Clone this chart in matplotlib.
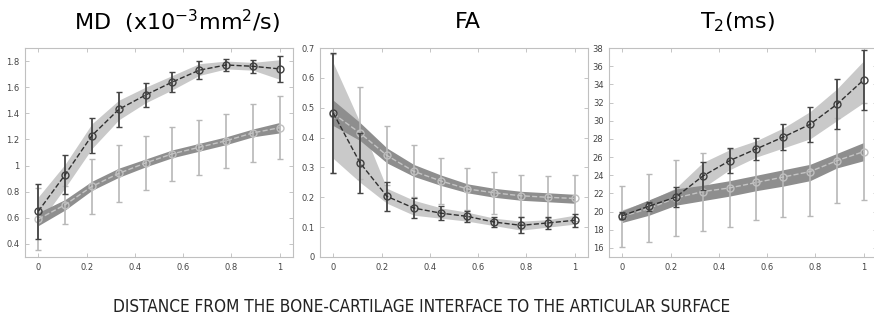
import numpy as np
import matplotlib
matplotlib.use('Agg')
import matplotlib.pyplot as plt

# posicao normalizada (0 = osso-cartilagem, 1 = superficie articular)
x = [0, 1/9, 2/9, 3/9, 4/9, 5/9, 6/9, 7/9, 8/9, 1]

# MD
md_a = [0.65, 0.93, 1.23, 1.43, 1.54, 1.64, 1.73, 1.77, 1.76, 1.74]
md_a_sd = [0.21, 0.15, 0.135, 0.135, 0.095, 0.08, 0.07, 0.045, 0.05, 0.10]
md_a_lo = [0.55, 0.83, 1.13, 1.35, 1.48, 1.58, 1.69, 1.74, 1.73, 1.66]
md_a_hi = [0.76, 1.01, 1.32, 1.50, 1.60, 1.69, 1.78, 1.80, 1.79, 1.81]
md_b = [0.59, 0.70, 0.84, 0.94, 1.02, 1.09, 1.14, 1.19, 1.25, 1.29]
md_b_sd = [0.235, 0.145, 0.21, 0.22, 0.21, 0.205, 0.21, 0.205, 0.22, 0.24]
md_b_lo = [0.54, 0.66, 0.81, 0.91, 0.99, 1.06, 1.11, 1.16, 1.22, 1.25]
md_b_hi = [0.64, 0.74, 0.88, 0.98, 1.05, 1.12, 1.17, 1.22, 1.28, 1.33]

# FA
fa_a = [0.482, 0.315, 0.203, 0.164, 0.147, 0.136, 0.117, 0.106, 0.114, 0.123]
fa_a_sd = [0.2, 0.10, 0.048, 0.032, 0.023, 0.019, 0.018, 0.027, 0.019, 0.022]
fa_a_lo = [0.33, 0.25, 0.18, 0.14, 0.13, 0.12, 0.105, 0.09, 0.10, 0.11]
fa_a_hi = [0.65, 0.45, 0.23, 0.19, 0.165, 0.15, 0.13, 0.12, 0.125, 0.14]
fa_b = [0.48, 0.415, 0.34, 0.287, 0.255, 0.228, 0.215, 0.205, 0.20, 0.196]
fa_b_sd = [0.2, 0.155, 0.10, 0.087, 0.077, 0.07, 0.07, 0.07, 0.071, 0.077]
fa_b_lo = [0.44, 0.39, 0.315, 0.27, 0.24, 0.215, 0.20, 0.19, 0.185, 0.18]
fa_b_hi = [0.525, 0.45, 0.365, 0.31, 0.275, 0.245, 0.23, 0.22, 0.215, 0.21]

# T2
t2_a = [19.55, 20.6, 21.6, 23.9, 25.6, 26.9, 28.2, 29.6, 31.8, 34.5]
t2_a_sd = [0.4, 0.5, 1.1, 1.5, 1.4, 1.25, 1.4, 1.9, 2.75, 3.3]
t2_a_lo = [19.0, 20.0, 21.0, 22.6, 24.6, 26.0, 27.0, 28.0, 30.0, 32.0]
t2_a_hi = [20.2, 21.2, 22.6, 25.4, 26.8, 27.8, 29.2, 31.0, 33.5, 36.6]
t2_b = [19.45, 20.35, 21.5, 22.2, 22.6, 23.2, 23.8, 24.4, 25.6, 26.6]
t2_b_sd = [3.4, 3.75, 4.15, 4.3, 4.25, 4.1, 4.4, 4.9, 4.7, 5.35]
t2_b_lo = [18.8, 19.6, 20.7, 21.2, 21.7, 22.3, 22.8, 23.4, 24.8, 25.6]
t2_b_hi = [20.1, 21.3, 22.5, 22.9, 23.4, 24.0, 24.6, 25.2, 26.4, 27.6]

paineis = [
    (md_a, md_a_sd, md_a_lo, md_a_hi, md_b, md_b_sd, md_b_lo, md_b_hi,
     (0.3, 1.9), [0.4, 0.6, 0.8, 1.0, 1.2, 1.4, 1.6, 1.8], ['0.4', '0.6', '0.8', '1', '1.2', '1.4', '1.6', '1.8']),
    (fa_a, fa_a_sd, fa_a_lo, fa_a_hi, fa_b, fa_b_sd, fa_b_lo, fa_b_hi,
     (0, 0.7), [0, 0.1, 0.2, 0.3, 0.4, 0.5, 0.6, 0.7], ['0', '0.1', '0.2', '0.3', '0.4', '0.5', '0.6', '0.7']),
    (t2_a, t2_a_sd, t2_a_lo, t2_a_hi, t2_b, t2_b_sd, t2_b_lo, t2_b_hi,
     (15, 38), list(range(16, 39, 2)), [str(v) for v in range(16, 39, 2)]),
]
xticks = [0, 0.2, 0.4, 0.6, 0.8, 1]
xticklabels = ['0', '0.2', '0.4', '0.6', '0.8', '1']

fig = plt.figure(figsize=(8.74, 3.2), dpi=100)
lefts = [25/874, 320/874, 609/874]
W, H = 268/874, 1 - 48/320 - (1 - 257/320)

for left, p in zip(lefts, paineis):
    a, a_sd, a_lo, a_hi, b, b_sd, b_lo, b_hi, ylim, yt, ytl = p
    ax = fig.add_axes([left, 1 - 257/320, W, H])
    ax.fill_between(x, a_lo, a_hi, color='#c9c9c9', lw=0, zorder=1)
    ax.fill_between(x, b_lo, b_hi, color='#8e8e8e', lw=0, zorder=2)
    ax.errorbar(x, b, yerr=b_sd, fmt='none', ecolor='#b8b8b8', elinewidth=1.2, capsize=2.5, zorder=3)
    ax.plot(x, b, ls='--', color='#c4c4c4', lw=1, marker='o', ms=5, mfc='none', mec='#c0c0c0', zorder=4)
    ax.errorbar(x, a, yerr=a_sd, fmt='none', ecolor='#454545', elinewidth=1.3, capsize=2.5, zorder=5)
    ax.plot(x, a, ls='--', color='#303030', lw=1, marker='o', ms=5, mfc='none', mec='#404040', zorder=6)
    ax.set_xlim(-0.055, 1.055)
    ax.set_ylim(*ylim)
    ax.set_xticks(xticks)
    ax.set_xticklabels(xticklabels)
    ax.set_yticks(yt)
    ax.set_yticklabels(ytl)
    ax.tick_params(direction='in', length=3, width=0.6, labelsize=6, colors='#bbbbbb',
                   labelcolor='#444444', top=True, right=True, pad=4)
    for s in ax.spines.values():
        s.set_color('#c0c0c0')
        s.set_linewidth(0.8)

fig.text(177/874, 0.93, r'MD  (x10$^{-3}$mm$^2$/s)', ha='center', va='center', fontsize=16)
fig.text(468/874, 0.93, 'FA', ha='center', va='center', fontsize=16)
fig.text(737/874, 0.93, r'T$_2$(ms)', ha='center', va='center', fontsize=16)
fig.text(422/874, 0.04, 'DISTANCE FROM THE BONE-CARTILAGE INTERFACE TO THE ARTICULAR SURFACE',
         ha='center', va='center', fontsize=12.3, fontstretch='condensed', color='#222222')

fig.savefig('out.png', dpi=100)
